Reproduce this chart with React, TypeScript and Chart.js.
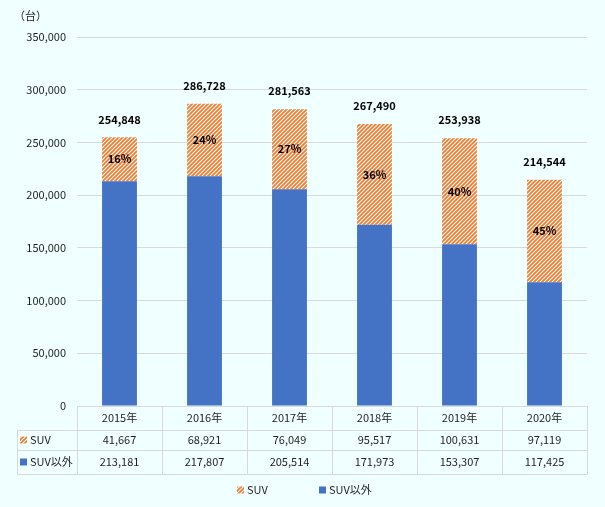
import React, { useEffect, useRef } from 'react';
import Chart from 'chart.js/auto';

// data
const years = ['2015年', '2016年', '2017年', '2018年', '2019年', '2020年'];
const suvUnits = [41667, 68921, 76049, 95517, 100631, 97119];
const otherUnits = [213181, 217807, 205514, 171973, 153307, 117425];
const seriesNames = ['SUV', 'SUV以外'];
const unitLabel = '（台）';
const yMax = 350000;
const yStep = 50000;

const BLUE = '#4472C4';
const ORANGE = '#ED7D31';
const BG = '#F0FFFF';
const LINE = '#D9D9D9';
const TEXT = '#1F1F1F';
const FONT = '"Noto Sans CJK JP", "Noto Sans", sans-serif';

const fmt = (n: number) => n.toLocaleString('en-US');

function makeHatch(): CanvasPattern | string {
  const size = 4;
  const c = document.createElement('canvas');
  c.width = size;
  c.height = size;
  const g = c.getContext('2d');
  if (!g) return ORANGE;
  g.fillStyle = '#ffffff';
  g.fillRect(0, 0, size, size);
  g.strokeStyle = ORANGE;
  g.lineWidth = 1.8;
  g.beginPath();
  g.moveTo(0, size); g.lineTo(size, 0);
  g.moveTo(-size / 2, size / 2); g.lineTo(size / 2, -size / 2);
  g.moveTo(size / 2, size * 1.5); g.lineTo(size * 1.5, size / 2);
  g.stroke();
  return g.createPattern(c, 'repeat') || ORANGE;
}

const App: React.FC = () => {
  const canvasRef = useRef<HTMLCanvasElement>(null);
  const chartInstance = useRef<Chart | null>(null);

  useEffect(() => {
    if (!canvasRef.current) return;
    if (chartInstance.current) chartInstance.current.destroy();
    const ctx = canvasRef.current.getContext('2d');
    if (!ctx) return;

    const hatch = makeHatch();

    const extras = {
      id: 'extras',
      afterDraw(chart: Chart) {
        const c = chart.ctx;
        const area = chart.chartArea;
        const n = years.length;
        const colW = (area.right - area.left) / n;
        const crisp = (v: number) => Math.round(v) + 0.5;
        c.save();

        // unit label
        c.fillStyle = TEXT;
        c.font = `11px ${FONT}`;
        c.textAlign = 'left';
        c.textBaseline = 'middle';
        c.fillText(unitLabel, 14, 16);

        // bar labels
        const topMeta = chart.getDatasetMeta(1);
        topMeta.data.forEach((el: any, i: number) => {
          const total = suvUnits[i] + otherUnits[i];
          const pct = Math.round((suvUnits[i] / total) * 100);
          c.font = `bold 11px ${FONT}`;
          c.textAlign = 'center';
          c.fillStyle = '#000';
          c.fillText(fmt(total), el.x, el.y - 18);
          c.fillText(`${pct}%`, el.x, (el.y + el.base) / 2);
        });

        // data table
        const tableLeft = 17;
        const rows = [area.bottom, area.bottom + 24, area.bottom + 44, area.bottom + 68];
        c.strokeStyle = LINE;
        c.lineWidth = 1;
        c.beginPath();
        c.moveTo(area.left, crisp(rows[0]));
        c.lineTo(area.right, crisp(rows[0]));
        for (let r = 1; r < rows.length; r++) {
          c.moveTo(tableLeft, crisp(rows[r]));
          c.lineTo(area.right, crisp(rows[r]));
        }
        c.moveTo(crisp(tableLeft), rows[1]);
        c.lineTo(crisp(tableLeft), rows[3]);
        for (let k = 0; k <= n; k++) {
          const x = crisp(area.left + k * colW);
          c.moveTo(x, rows[0]);
          c.lineTo(x, rows[3]);
        }
        c.stroke();

        c.font = `11px ${FONT}`;
        c.fillStyle = TEXT;
        c.textAlign = 'center';
        years.forEach((y, i) => {
          const cx = area.left + (i + 0.5) * colW;
          c.fillText(y, cx, (rows[0] + rows[1]) / 2);
          c.fillText(fmt(suvUnits[i]), cx, (rows[1] + rows[2]) / 2);
          c.fillText(fmt(otherUnits[i]), cx, (rows[2] + rows[3]) / 2);
        });

        const swatch = (x: number, y: number, fill: CanvasPattern | string) => {
          c.fillStyle = fill;
          c.fillRect(x, y - 3.5, 7, 7);
        };
        // row headers
        c.textAlign = 'left';
        swatch(20, (rows[1] + rows[2]) / 2, hatch);
        swatch(20, (rows[2] + rows[3]) / 2, BLUE);
        c.fillStyle = TEXT;
        c.fillText(seriesNames[0], 30, (rows[1] + rows[2]) / 2);
        c.fillText(seriesNames[1], 30, (rows[2] + rows[3]) / 2);

        // legend
        const ly = 490;
        swatch(237, ly, hatch);
        swatch(319, ly, BLUE);
        c.fillStyle = TEXT;
        c.fillText(seriesNames[0], 247, ly);
        c.fillText(seriesNames[1], 329, ly);

        c.restore();
      },
    };

    chartInstance.current = new Chart(ctx, {
      type: 'bar',
      data: {
        labels: years,
        datasets: [
          {
            label: seriesNames[1],
            data: otherUnits,
            backgroundColor: BLUE,
            borderWidth: 0,
            barPercentage: 0.41,
            categoryPercentage: 1,
          },
          {
            label: seriesNames[0],
            data: suvUnits,
            backgroundColor: hatch as any,
            borderWidth: 0,
            barPercentage: 0.41,
            categoryPercentage: 1,
          },
        ],
      },
      options: {
        responsive: false,
        animation: false,
        layout: { padding: { left: 0, top: 37, right: 18, bottom: 101 } },
        plugins: {
          legend: { display: false },
          tooltip: { enabled: false },
        },
        scales: {
          x: { stacked: true, display: false },
          y: {
            stacked: true,
            min: 0,
            max: yMax,
            afterFit: (s: any) => { s.width = 77; },
            border: { display: false },
            grid: { color: LINE, drawTicks: false },
            ticks: {
              stepSize: yStep,
              padding: 11,
              color: TEXT,
              font: { family: FONT, size: 11 },
              callback: (v: any) => fmt(Number(v)),
            },
          },
        },
      },
      plugins: [extras],
    });

    return () => {
      if (chartInstance.current) {
        chartInstance.current.destroy();
        chartInstance.current = null;
      }
    };
  }, []);

  return (
    <div style={{ position: 'fixed', left: 0, top: 0, width: 605, height: 507, background: BG }}>
      <canvas ref={canvasRef} width={605} height={507} style={{ display: 'block' }} />
    </div>
  );
};

export default App;
